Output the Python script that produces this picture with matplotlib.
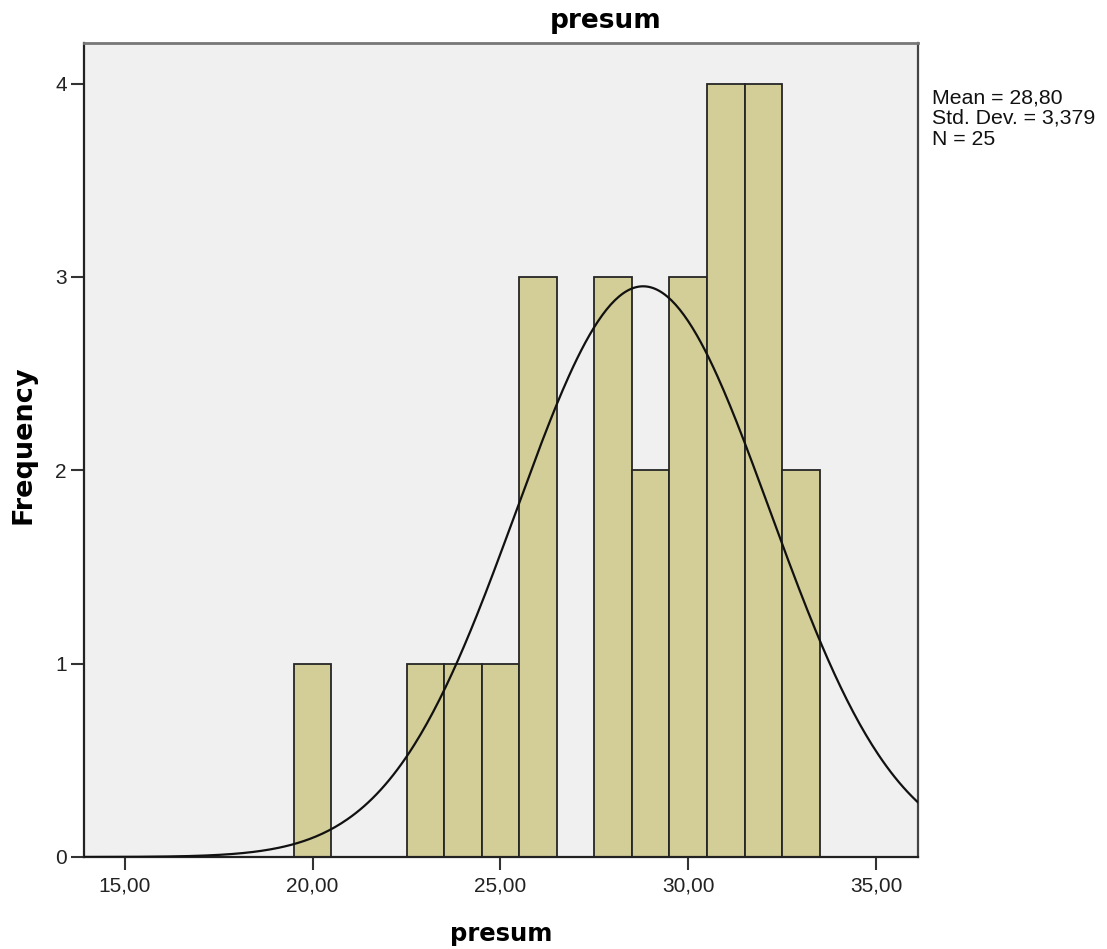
import numpy as np
import matplotlib.pyplot as plt

plt.rcParams['font.family'] = ['Liberation Sans', 'DejaVu Sans']

# histogram bins (centre value) and frequencies
bin_centres = [20, 23, 24, 25, 26, 28, 29, 30, 31, 32, 33]
counts = [1, 1, 1, 1, 3, 3, 2, 3, 4, 4, 2]
mean = 28.80
std_dev = 3.379
n = 25
x_ticks = [15, 20, 25, 30, 35]
y_ticks = [0, 1, 2, 3, 4]

W, H = 1107, 949
fig = plt.figure(figsize=(W / 100, H / 100), dpi=100)
ax = fig.add_axes([84 / W, 1 - 857 / H, (918 - 84) / W, (857 - 43) / H])
ax.set_facecolor('#f0f0f0')

ax.bar(bin_centres, counts, width=1.0, color='#d3ce97', edgecolor='#262626',
       linewidth=1.3, zorder=2)

# fitted normal curve scaled to counts (bin width 1)
xs = np.linspace(13.91, 36.12, 400)
ys = n / (std_dev * np.sqrt(2 * np.pi)) * np.exp(-0.5 * ((xs - mean) / std_dev) ** 2)
ax.plot(xs, ys, color='#111111', linewidth=1.6, zorder=3)

ax.set_xlim(13.91, 36.12)
ax.set_ylim(0, 4.21)
ax.set_xticks(x_ticks)
ax.set_xticklabels([f'{v:.2f}'.replace('.', ',') for v in x_ticks])
ax.set_yticks(y_ticks)
ax.set_yticklabels([str(v) for v in y_ticks])
ax.tick_params(axis='x', direction='out', length=9.4, width=1.5, color='#333333',
               labelsize=15, pad=5, labelcolor='#222222')
ax.tick_params(axis='y', direction='out', length=9.4, width=1.5, color='#333333',
               labelsize=15, pad=3, labelcolor='#222222')

for side in ['left', 'bottom']:
    ax.spines[side].set_color('#222222')
    ax.spines[side].set_linewidth(1.6)
ax.spines['top'].set_color('#777777')
ax.spines['top'].set_linewidth(2)
ax.spines['right'].set_color('#444444')
ax.spines['right'].set_linewidth(1.6)

fig.text(606 / W, 1 - 28 / H, 'presum', family='DejaVu Sans', fontsize=19,
         fontweight='bold', ha='center', va='baseline')
fig.text(501.5 / W, 1 - 941 / H, 'presum', family='DejaVu Sans', fontsize=17.5,
         fontweight='bold', ha='center', va='baseline')
fig.text(24 / W, 1 - 445 / H, 'Frequency', family='DejaVu Sans', fontsize=19.5,
         fontweight='bold', ha='center', va='center', rotation=90)

stats = f'Mean = {mean:.2f}\nStd. Dev. = {std_dev:.3f}\nN = {n}'
stats = stats.replace('28.80', '28,80').replace('3.379', '3,379')
fig.text(932 / W, 1 - 88 / H, stats, fontsize=15.3, va='top', ha='left',
         linespacing=1.12, color='#111111')

fig.savefig('out.png', dpi=100)
